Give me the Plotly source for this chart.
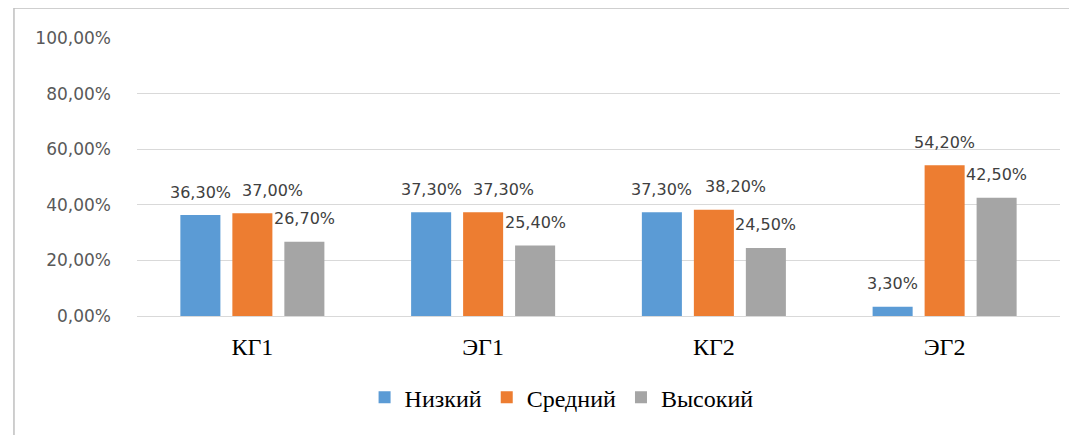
import plotly.graph_objects as go

categories = ["КГ1", "ЭГ1", "КГ2", "ЭГ2"]
series_names = ["Низкий", "Средний", "Высокий"]
low = [36.3, 37.3, 37.3, 3.3]
mid = [37.0, 37.3, 38.2, 54.2]
high = [26.7, 25.4, 24.5, 42.5]
colors = ["#5B9BD5", "#ED7D31", "#A5A5A5"]
y_ticks = [0, 20, 40, 60, 80, 100]
y_tick_text = [f"{t:.2f}".replace(".", ",") + "%" for t in y_ticks]

series = [low, mid, high]
# horizontal label nudges (px) as placed in the original (orange labels moved right in first three groups)
label_nudge = [[0, 0, 0, 0], [20, 20, 22, 0], [0, 0, 0, 0]]

fig = go.Figure()
for name, vals, col in zip(series_names, series, colors):
    fig.add_trace(go.Bar(
        x=categories, y=vals, name=name,
        marker=dict(color=col, line=dict(width=0)),
    ))

slot = 52  # px spacing between bars in a group
for i, vals in enumerate(series):
    for j, (c, v) in enumerate(zip(categories, vals)):
        fig.add_annotation(
            x=c, y=v, xref="x", yref="y",
            text=f"{v:.2f}".replace(".", ",") + "%",
            showarrow=False, xshift=(i - 1) * slot + label_nudge[i][j], yshift=23,
            yanchor="middle", xanchor="center",
            font=dict(family="DejaVu Sans", size=16, color="#404040"),
        )

# outer frame (left and top border)
fig.add_shape(type="line", xref="paper", yref="paper",
              x0=-0.1333, x1=-0.1333, y0=-0.6, y1=1.108,
              line=dict(color="#BFBFBF", width=1.5))
fig.add_shape(type="line", xref="paper", yref="paper",
              x0=-0.1333, x1=1.03, y0=1.108, y1=1.108,
              line=dict(color="#BFBFBF", width=1.5))

fig.update_layout(
    width=1069, height=427,
    margin=dict(l=129, r=17, t=30, b=119, autoexpand=False),
    paper_bgcolor="white", plot_bgcolor="white",
    bargap=0.324, bargroupgap=0.23,
    barmode="group",
    showlegend=True,
    legend=dict(orientation="h", x=0.46, xanchor="center", y=-0.213, yanchor="top",
                font=dict(family="Liberation Serif", size=24, color="#000000"),
                itemwidth=30, traceorder="normal"),
    xaxis=dict(showgrid=False, showline=False, zeroline=False, ticks="",
               tickfont=dict(family="Liberation Serif", size=24, color="#000000"),
               ticklabelstandoff=14),
    yaxis=dict(range=[0, 100], tickvals=y_ticks, ticktext=y_tick_text,
               showgrid=True, gridcolor="#D9D9D9", gridwidth=1.2,
               zeroline=True, zerolinecolor="#D9D9D9", zerolinewidth=1.2,
               showline=False, ticks="",
               tickfont=dict(family="DejaVu Sans", size=17, color="#595959"),
               ticklabelstandoff=25),
)

fig.write_html("out.html")
